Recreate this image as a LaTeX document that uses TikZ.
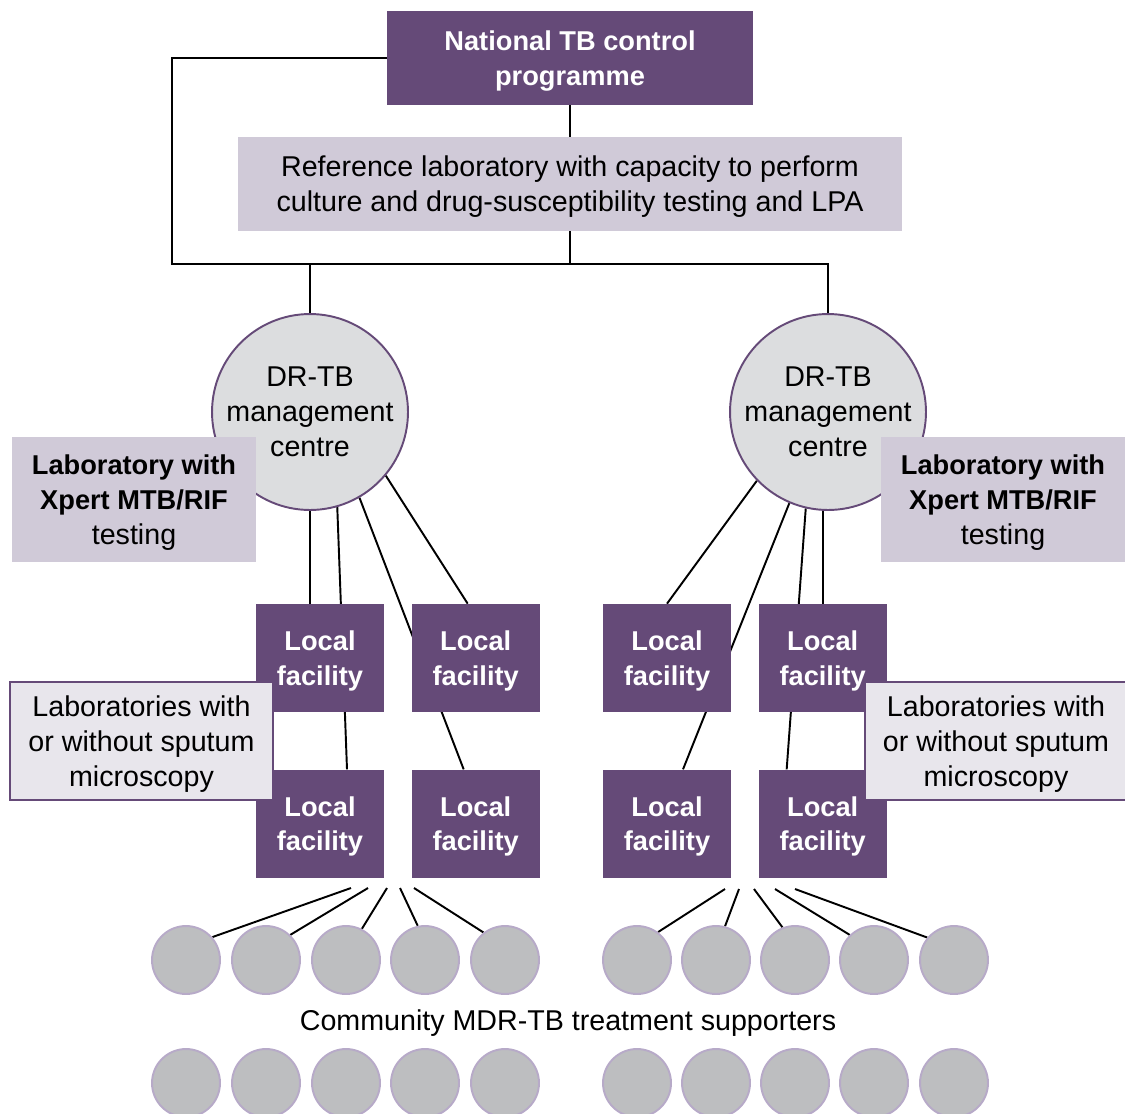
\documentclass[tikz,border=0pt]{standalone}
\usepackage{fontspec}
\setmainfont{Liberation Sans}
\usepackage{tikz}
\usetikzlibrary{positioning, calc, backgrounds}
\definecolor{progcolor}{HTML}{654A78}
\definecolor{labcolor}{HTML}{D0CAD8}
\definecolor{centrecolor}{HTML}{DCDDDF}
\definecolor{micrcolor}{HTML}{E8E6EC}
\definecolor{suppcolor}{HTML}{BDBEC0}
\definecolor{suppedge}{HTML}{B7AAC8}
\newcommand{\figfont}{\fontsize{16.3}{19.8}\selectfont}
\newcommand{\figbold}{\fontsize{15.5}{19.8}\selectfont\bfseries}

\begin{document}
\begin{tikzpicture}[x=0.02cm, y=-0.02cm,
    node distance=1.14cm and 0.54cm,
    prog/.style={fill=progcolor, text=white, inner sep=0pt, align=center, text depth=-0.3pt,
                 minimum width=7.32cm, minimum height=1.88cm, font=\figbold},
    lab/.style={fill=labcolor, inner sep=0pt, align=center, font=\figfont},
    centre/.style={circle, draw=progcolor, line width=1.1pt, fill=centrecolor,
                   minimum size=3.92cm, inner sep=0pt, align=center, font=\figfont},
    facility/.style={fill=progcolor, text=white, inner sep=0pt, align=center, text depth=-0.3pt,
                     minimum width=2.56cm, minimum height=2.16cm, font=\figbold},
    micro/.style={fill=micrcolor, draw=progcolor, line width=1.1pt, inner sep=0pt, text depth=0pt,
                  minimum width=5.26cm, minimum height=2.36cm, align=center, font=\figfont},
    supp/.style={circle, fill=suppcolor, draw=suppedge, line width=1.1pt,
                 minimum size=1.36cm, inner sep=0pt},
    link/.style={line width=1.1pt}
]
    \useasboundingbox (0,0) rectangle (1125,1113);

    \node[prog] (ntp) at (570,58) {National TB control\\programme};
    \node[lab, minimum width=13.28cm, minimum height=1.88cm, text depth=0pt] (ref) at (570,184)
          {Reference laboratory with capacity to perform\\culture and drug-susceptibility testing and LPA};
    \coordinate (busL) at (172,264);

    \node[centre] (dcL) at (310,412) {DR-TB\\management\\centre};
    \node[centre] (dcR) at (828,412) {DR-TB\\management\\centre};
    \node[lab, minimum width=4.9cm, minimum height=2.5cm, text depth=-0.3pt] (xpL) at (134,499.5)
          {{\figbold Laboratory with}\\{\figbold Xpert MTB/RIF}\\testing};
    \node[lab, minimum width=4.9cm, minimum height=2.5cm, text depth=-0.3pt] (xpR) at (1003,499.5)
          {{\figbold Laboratory with}\\{\figbold Xpert MTB/RIF}\\testing};

    \node[facility] (fL1) at (320,658) {Local\\facility};
    \node[facility, right=of fL1] (fL2) {Local\\facility};
    \node[facility, below=of fL1] (fL3) {Local\\facility};
    \node[facility, below=of fL2] (fL4) {Local\\facility};
    \node[facility] (fR1) at (667,658) {Local\\facility};
    \node[facility, right=of fR1] (fR2) {Local\\facility};
    \node[facility, below=of fR1] (fR3) {Local\\facility};
    \node[facility, below=of fR2] (fR4) {Local\\facility};

    \node[micro] (mcL) at (141.5,741) {Laboratories with\\or without sputum\\microscopy};
    \node[micro] (mcR) at (996,741) {Laboratories with\\or without sputum\\microscopy};

    \foreach \i/\x in {1/186, 2/266, 3/346, 4/425, 5/505} {
        \node[supp] (sL\i) at (\x,960) {};
        \node[supp] (bL\i) at (\x,1083) {};
    }
    \foreach \i/\x in {1/637, 2/716, 3/795, 4/874, 5/954} {
        \node[supp] (sR\i) at (\x,960) {};
        \node[supp] (bR\i) at (\x,1083) {};
    }
    \node[font=\figfont] (cms) at (568,1023) {Community MDR-TB treatment supporters};

    \foreach \i/\x in {1/351, 2/368, 3/387, 4/400, 5/414}
        \coordinate (hL\i) at (\x,888);
    \foreach \i/\x in {1/725, 2/739, 3/754, 4/775, 5/795}
        \coordinate (hR\i) at (\x,889);

    \begin{scope}[on background layer]
    \draw[link] (ntp.west) -| (busL) -| (dcR.north);
    \draw[link] (ntp) -- (ref);
    \draw[link] (ref.south) -- (ref.south |- busL);
    \draw[link] (dcL.north) -- (dcL.north |- busL);

    \draw[link] (dcL.south) -- (dcL.south |- fL1.north);
    \draw[link] (dcL.-74) -- ($(fL3.north)+(27,0)$);
    \draw[link] (dcL.-60) -- ($(fL4.north)+(-12,0)$);
    \draw[link] (dcL.-40) -- ($(fL2.north)+(-8,0)$);
    \draw[link] (dcR.-136) -- (fR1.north);
    \draw[link] (dcR.-113) -- ($(fR3.north)+(16,0)$);
    \draw[link] (dcR.-103) -- ($(fR4.north)+(-36,0)$);
    \draw[link] (dcR.-93) -- (dcR.-93 |- fR2.north);

    \foreach \i/\a in {1/41, 2/46, 3/63, 4/102, 5/128}
        \draw[link] (hL\i) -- (sL\i.\a);
    \foreach \i/\a in {1/53, 2/75, 3/111, 4/134, 5/140}
        \draw[link] (hR\i) -- (sR\i.\a);
    \end{scope}
\end{tikzpicture}
\end{document}
